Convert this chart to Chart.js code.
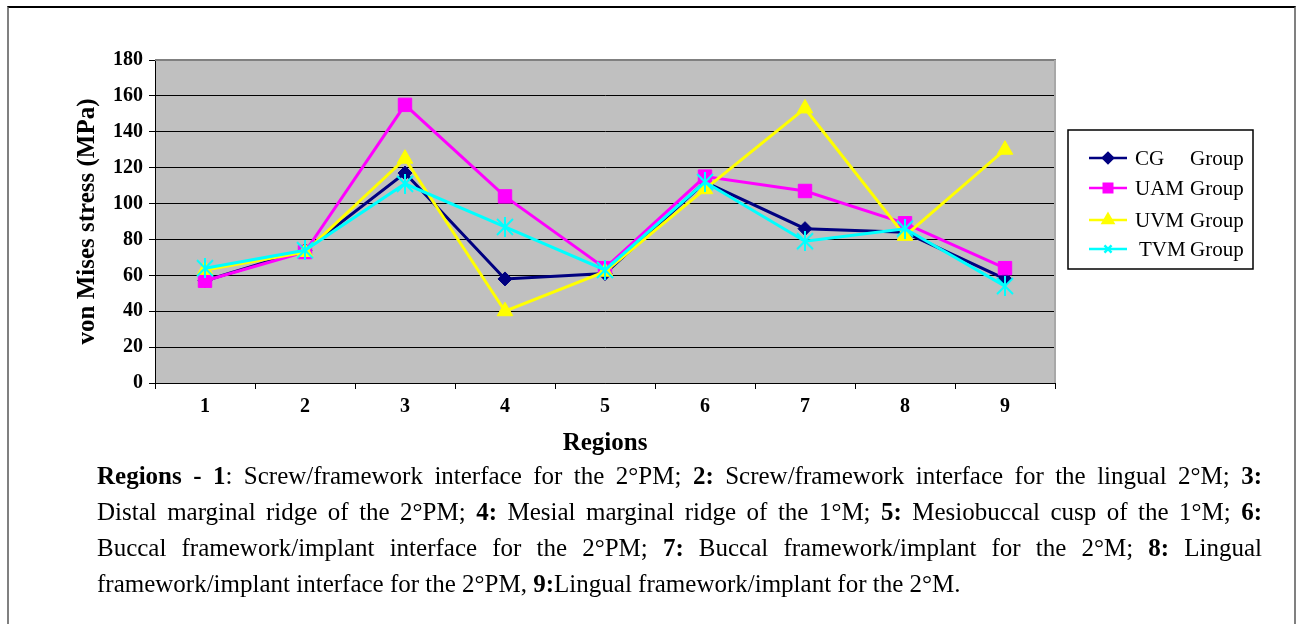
<!DOCTYPE html>
<html>
<head>
<meta charset="utf-8">
<script src="https://cdn.jsdelivr.net/npm/chart.js@4.4.1/dist/chart.umd.min.js"></script>
<style>
  html, body { margin: 0; padding: 0; background: #fff; }
  body { width: 1297px; height: 624px; position: relative; overflow: hidden; }
  #frame { position: absolute; left: 7px; top: 6px; width: 1285px; height: 640px;
           border-top: 2px solid #000; border-left: 2px solid #808080; border-right: 2px solid #808080; }
  #wrap { position: absolute; left: 0; top: 0; width: 1297px; height: 624px; }
  #caption { position: absolute; left: 97px; top: 458px; width: 1165px;
             font-family: "Liberation Serif", "Times New Roman", serif; font-size: 25px; color: #000; }
  #caption div { height: 36px; line-height: 36px; white-space: nowrap; text-align: justify; text-align-last: justify; }
  #caption div.last { text-align-last: left; }
</style>
</head>
<body>
<div id="frame"></div>
<div id="wrap"><canvas id="c" width="1297" height="624"></canvas></div>
<div id="caption">
  <div><b>Regions - 1</b>: Screw/framework interface for the 2°PM; <b>2:</b> Screw/framework interface for the lingual 2°M; <b>3:</b></div>
  <div>Distal marginal ridge of the 2°PM; <b>4:</b> Mesial marginal ridge of the 1°M; <b>5:</b> Mesiobuccal cusp of the 1°M; <b>6:</b></div>
  <div>Buccal framework/implant interface for the 2°PM; <b>7:</b> Buccal framework/implant for the 2°M; <b>8:</b> Lingual</div>
  <div class="last">framework/implant interface for the 2°PM, <b>9:</b>Lingual framework/implant for the 2°M.</div>
</div>
<script>
const categories = ['1', '2', '3', '4', '5', '6', '7', '8', '9'];
const seriesNames = ['CG', 'UAM', 'UVM', 'TVM'];
const cgValues  = [57, 74, 117, 58, 61, 112, 86, 84, 58];
const uamValues = [57, 73, 155, 104, 64, 115, 107, 89, 64];
const uvmValues = [63, 73, 125, 40, 62, 108, 153, 82, 130];
const tvmValues = [64, 74, 111, 87, 63, 112, 79, 86, 54];
const yTicks = [0, 20, 40, 60, 80, 100, 120, 140, 160, 180];

const SERIF = '"Liberation Serif", "Times New Roman", serif';
const colors = ['#000080', '#FF00FF', '#FFFF00', '#00FFFF'];

// asterisk marker (X plus vertical stroke) for TVM
function makeStar(size, lw, col, vertical) {
  const c = document.createElement('canvas');
  c.width = size; c.height = size;
  const g = c.getContext('2d');
  g.strokeStyle = col; g.lineWidth = lw;
  const m = 2, s = size - 2;
  g.beginPath();
  g.moveTo(m, m); g.lineTo(s, s);
  g.moveTo(s, m); g.lineTo(m, s);
  if (vertical) { g.moveTo(size / 2, 0); g.lineTo(size / 2, size); }
  g.stroke();
  return c;
}
const starImg = makeStar(20, 2, '#00FFFF', true);

const plotDeco = {
  id: 'plotDeco',
  beforeDraw(chart) {
    const {ctx, chartArea: a} = chart;
    ctx.save();
    ctx.fillStyle = '#C0C0C0';
    ctx.fillRect(a.left, a.top, a.right - a.left, a.bottom - a.top);
    ctx.restore();
  },
  afterDraw(chart) {
    const {ctx, chartArea: a} = chart;
    ctx.save();
    ctx.strokeStyle = '#808080'; ctx.lineWidth = 2;
    ctx.beginPath(); ctx.moveTo(a.left, a.top); ctx.lineTo(a.right + 1, a.top); ctx.stroke();
    ctx.strokeStyle = '#A8A8A8';
    ctx.beginPath(); ctx.moveTo(a.right, a.top); ctx.lineTo(a.right, a.bottom); ctx.stroke();
    // legend box
    ctx.strokeStyle = '#000'; ctx.lineWidth = 1.5;
    ctx.strokeRect(1068, 130, 185, 139);
    const rows = [158, 188, 220, 249];
    const styles = ['rectRot', 'rect', 'triangle', 'crossRot'];
    const radii = [5, 6, 6, 5];
    ctx.font = '21px ' + SERIF;
    ctx.textBaseline = 'middle';
    for (let i = 0; i < 4; i++) {
      const y = rows[i];
      ctx.strokeStyle = colors[i]; ctx.lineWidth = 2.5;
      ctx.beginPath(); ctx.moveTo(1089, y); ctx.lineTo(1127, y); ctx.stroke();
      ctx.fillStyle = colors[i];
      ctx.strokeStyle = colors[i];
      Chart.helpers.drawPoint(ctx, {pointStyle: styles[i], radius: radii[i], borderWidth: 2, rotation: 0}, 1108, y);
      ctx.fillStyle = '#000';
      ctx.textAlign = 'left';
      ctx.fillText(seriesNames[i], i === 3 ? 1139 : 1135, y + 1);
      ctx.fillText('Group', 1190, y + 1);
    }
    ctx.restore();
  }
};

const mk = (i, data, style, radius) => ({
  label: seriesNames[i] + ' Group',
  data: data,
  borderColor: colors[i],
  backgroundColor: colors[i],
  borderWidth: 3,
  pointStyle: style,
  pointRadius: radius,
  pointBorderWidth: 1,
  pointBorderColor: colors[i],
  pointBackgroundColor: colors[i],
  tension: 0,
  order: 4 - i
});

new Chart(document.getElementById('c'), {
  type: 'line',
  data: {
    labels: categories,
    datasets: [
      mk(0, cgValues, 'rectRot', 7),
      mk(1, uamValues, 'rect', 9.5),
      mk(2, uvmValues, 'triangle', 9),
      Object.assign(mk(3, tvmValues, starImg, 10), {pointBorderWidth: 0})
    ]
  },
  options: {
    responsive: false,
    animation: false,
    layout: { padding: { left: 0, top: 60, right: 242, bottom: 161 } },
    plugins: { legend: { display: false }, tooltip: { enabled: false } },
    scales: {
      x: {
        type: 'category',
        offset: true,
        grid: { display: true, drawOnChartArea: false, drawTicks: true, tickLength: 6, color: '#000', offset: true },
        border: { display: true, color: '#000', width: 1 },
        ticks: { color: '#000', padding: 6, font: { family: SERIF, size: 20, weight: 'bold' } },
        title: { display: true, text: 'Regions', color: '#000', padding: { top: 0, bottom: 4 },
                 font: { family: SERIF, size: 25, weight: 'bold', lineHeight: 1.2 } },
        afterFit(s) { s.height = 80; }
      },
      y: {
        min: 0, max: 180,
        afterBuildTicks(s) { s.ticks = yTicks.map(v => ({ value: v })); },
        grid: { color: '#000', lineWidth: 1, tickLength: 6, drawTicks: true },
        border: { display: true, color: '#000', width: 1 },
        ticks: { color: '#000', padding: 6, font: { family: SERIF, size: 20, weight: 'bold' } },
        title: { display: true, text: 'von Mises stress (MPa)', color: '#000', padding: { top: 73, bottom: 0 },
                 font: { family: SERIF, size: 25, weight: 'bold', lineHeight: 1.2 } },
        afterFit(s) { s.width = 155; }
      }
    }
  },
  plugins: [plotDeco]
});
</script>
</body>
</html>
